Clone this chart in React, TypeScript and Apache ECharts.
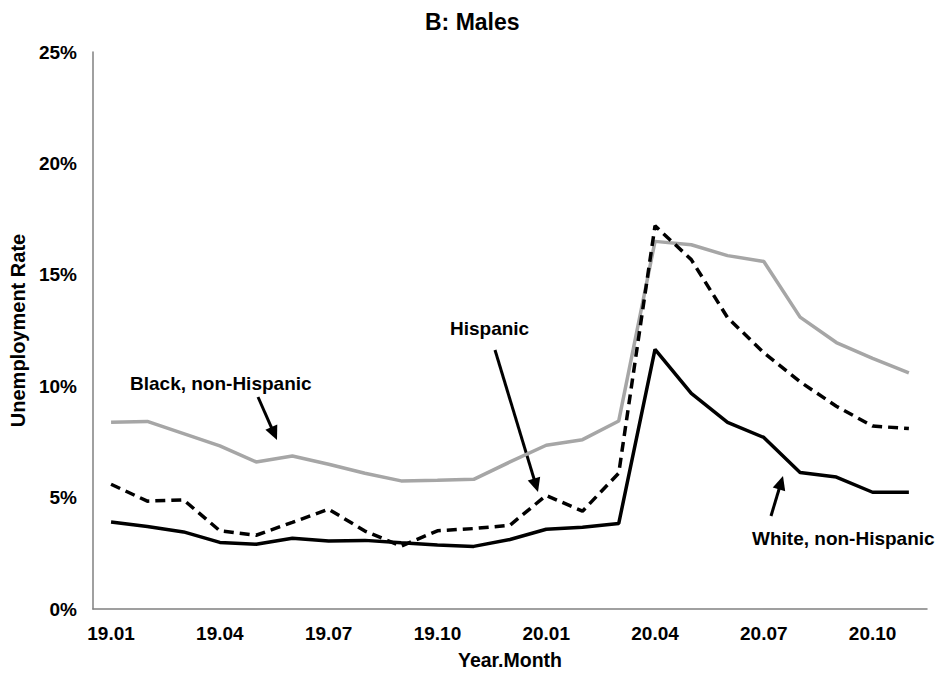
import React, { useEffect, useRef } from "react";
import * as echarts from "echarts";

const months = [
  "19.01", "19.02", "19.03", "19.04", "19.05", "19.06", "19.07", "19.08", "19.09", "19.10", "19.11", "19.12",
  "20.01", "20.02", "20.03", "20.04", "20.05", "20.06", "20.07", "20.08", "20.09", "20.10", "20.11",
];
const blackNonHispanic = [8.38, 8.42, 7.87, 7.32, 6.6, 6.87, 6.5, 6.09, 5.75, 5.78, 5.82, 6.6, 7.35, 7.6, 8.44, 16.5, 16.35, 15.86, 15.6, 13.1, 11.96, 11.25, 10.6];
const hispanic = [5.6, 4.84, 4.9, 3.51, 3.31, 3.89, 4.48, 3.5, 2.82, 3.51, 3.61, 3.76, 5.1, 4.39, 6.1, 17.2, 15.68, 13.08, 11.5, 10.2, 9.1, 8.21, 8.1];
const whiteNonHispanic = [3.9, 3.7, 3.46, 2.99, 2.91, 3.18, 3.05, 3.08, 2.97, 2.87, 2.81, 3.12, 3.58, 3.67, 3.84, 11.65, 9.68, 8.38, 7.7, 6.13, 5.92, 5.24, 5.24];

const FONT = "'Liberation Sans', Arial, sans-serif";

function arrow(x1: number, y1: number, x2: number, y2: number) {
  const dx = x2 - x1;
  const dy = y2 - y1;
  const len = Math.sqrt(dx * dx + dy * dy);
  const ux = dx / len;
  const uy = dy / len;
  const hl = 14;
  const hw = 6.5;
  const bx = x2 - ux * hl;
  const by = y2 - uy * hl;
  return [
    {
      type: "line",
      shape: { x1, y1, x2: bx + ux * 2, y2: by + uy * 2 },
      style: { stroke: "#000", lineWidth: 3 },
      silent: true,
    },
    {
      type: "polygon",
      shape: {
        points: [
          [x2, y2],
          [bx - uy * hw, by + ux * hw],
          [bx + uy * hw, by - ux * hw],
        ],
      },
      style: { fill: "#000" },
      silent: true,
    },
  ];
}

export default function App() {
  const ref = useRef<HTMLDivElement>(null);
  useEffect(() => {
    if (!ref.current) return;
    const chart = echarts.init(ref.current, null, { renderer: "svg" });
    const labelStyle = { fontFamily: FONT, fontWeight: "bold", fontSize: 19, color: "#000" };
    chart.setOption({
      animation: false,
      backgroundColor: "#fff",
      title: {
        text: "B: Males",
        left: 420,
        top: 5,
        textStyle: { fontFamily: FONT, fontWeight: "bold", fontSize: 23, color: "#000" },
      },
      grid: { left: 92, right: 19, top: 52, bottom: 65 },
      xAxis: {
        type: "category",
        data: months,
        boundaryGap: true,
        name: "Year.Month",
        nameLocation: "middle",
        nameGap: 41,
        nameTextStyle: { ...labelStyle, fontSize: 19.5 },
        axisLine: { show: true, lineStyle: { color: "#808080", width: 1.5 } },
        axisTick: { show: false },
        axisLabel: { ...labelStyle, interval: 2, margin: 15 },
        splitLine: { show: false },
      },
      yAxis: {
        type: "value",
        min: 0,
        max: 25,
        interval: 5,
        name: "Unemployment Rate",
        nameLocation: "middle",
        nameGap: 62,
        nameTextStyle: { ...labelStyle, fontSize: 20 },
        axisLine: { show: true, lineStyle: { color: "#808080", width: 1.5 } },
        axisTick: { show: false },
        axisLabel: { ...labelStyle, formatter: "{value}%", margin: 16 },
        splitLine: { show: false },
      },
      series: [
        {
          name: "Black, non-Hispanic",
          type: "line",
          data: blackNonHispanic,
          symbol: "none",
          lineStyle: { color: "#A6A6A6", width: 3.5 },
        },
        {
          name: "Hispanic",
          type: "line",
          data: hispanic,
          symbol: "none",
          lineStyle: { color: "#000", width: 3.5, type: [10, 6] },
        },
        {
          name: "White, non-Hispanic",
          type: "line",
          data: whiteNonHispanic,
          symbol: "none",
          lineStyle: { color: "#000", width: 3.5 },
        },
      ],
      graphic: [
        {
          type: "text",
          left: 130,
          top: 374,
          style: { text: "Black, non-Hispanic", font: `bold 19px ${FONT}`, fill: "#000" },
        },
        {
          type: "text",
          left: 450,
          top: 319,
          style: { text: "Hispanic", font: `bold 19px ${FONT}`, fill: "#000" },
        },
        {
          type: "text",
          left: 752,
          top: 529,
          style: { text: "White, non-Hispanic", font: `bold 19px ${FONT}`, fill: "#000" },
        },
        ...arrow(258, 397, 277, 440),
        ...arrow(495, 350, 538, 492),
        ...arrow(771, 516, 783, 476),
      ],
    });
    return () => chart.dispose();
  }, []);
  return <div ref={ref} style={{ position: "fixed", left: 0, top: 0, width: 946, height: 675 }} />;
}
